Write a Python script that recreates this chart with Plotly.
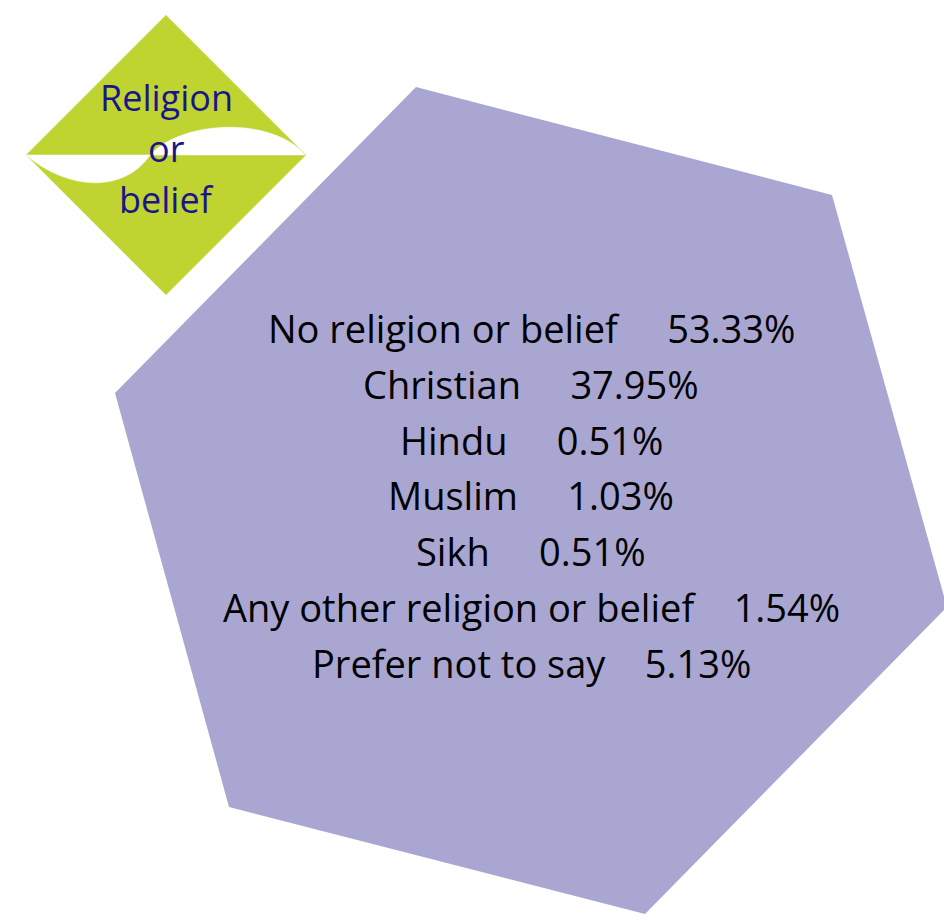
import plotly.graph_objects as go

# ---- data ----
categories = [
    "No religion or belief",
    "Christian",
    "Hindu",
    "Muslim",
    "Sikh",
    "Any other religion or belief",
    "Prefer not to say",
]
percentages = [53.33, 37.95, 0.51, 1.03, 0.51, 1.54, 5.13]
gap_spaces = [5, 5, 5, 5, 5, 4, 4]
title_lines = ["Religion", "or", "belief"]

W, H = 944, 921
NB = "\u00a0"
FONT = "Open Sans"

fig = go.Figure()
fig.update_layout(
    width=W, height=H, autosize=False,
    margin=dict(l=0, r=0, t=0, b=0),
    paper_bgcolor="white", plot_bgcolor="white",
    showlegend=False,
    xaxis=dict(range=[0, W], visible=False, fixedrange=True),
    yaxis=dict(range=[H, 0], visible=False, fixedrange=True),
)

# hexagon
hexagon = "M 416 87 L 832 195 L 947 607 L 645 914 L 229 807 L 115 393 Z"
fig.add_shape(type="path", path=hexagon, xref="x", yref="y",
              fillcolor="#a9a7d1", line=dict(width=0), layer="below")

# diamond
cx, cy, r = 166, 155, 140
diamond = f"M {cx} {cy-r} L {cx+r} {cy} L {cx} {cy+r} L {cx-r} {cy} Z"
fig.add_shape(type="path", path=diamond, xref="x", yref="y",
              fillcolor="#bfd431", line=dict(width=0), layer="below")

# white wave
wave = ("M 26 155 C 70 192, 125 192, 150 155 "
        "C 185 118, 275 118, 305 155 L 26 155 Z")
fig.add_shape(type="path", path=wave, xref="x", yref="y",
              fillcolor="white", line=dict(width=0.5, color="white"), layer="below")

# diamond title
for i, t in enumerate(title_lines):
    fig.add_annotation(x=166, y=97 + i * 51, xref="x", yref="y", text=t,
                       showarrow=False, xanchor="center", yanchor="middle",
                       font=dict(family=FONT, size=36, color="#1a168a"))

# main list
for i, (c, p) in enumerate(zip(categories, percentages)):
    txt = f"{c}{NB * gap_spaces[i]}{p:.2f}%"
    fig.add_annotation(x=531, y=328 + i * 55.8, xref="x", yref="y", text=txt,
                       showarrow=False, xanchor="center", yanchor="middle",
                       font=dict(family=FONT, size=38, color="black"))

fig.write_html(
    "out.html",
    config={"displayModeBar": False},
    post_script="document.body.style.margin='0';document.body.style.overflow='hidden';",
)
